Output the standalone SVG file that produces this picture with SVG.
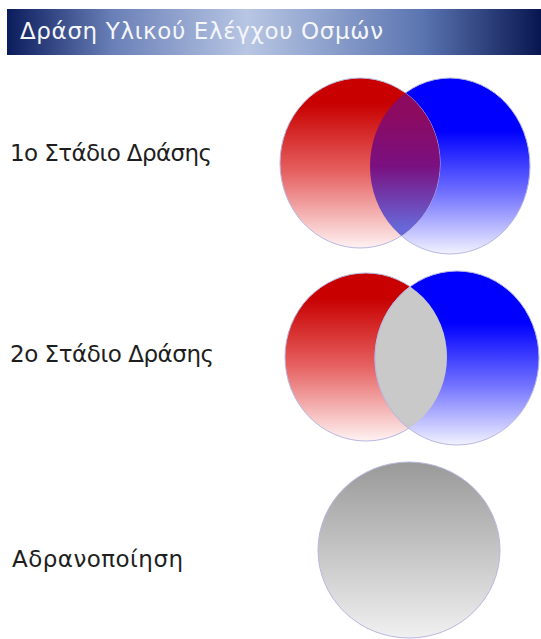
<svg xmlns="http://www.w3.org/2000/svg" width="541" height="639" viewBox="0 0 541 639">
<style>
.lbl{font-family:"DejaVu Sans","Liberation Sans",Arial,sans-serif;font-size:23px;fill:#1e1e1e}
.ttl{font-family:"DejaVu Sans","Liberation Sans",Arial,sans-serif;font-size:23px;fill:#f4f6fa}
.edge{stroke:#b8b8e0;stroke-width:1}
</style>
<defs>
<linearGradient id="hdr" x1="0" y1="0" x2="1" y2="0">
<stop offset="0" stop-color="#0b1c5c"/>
<stop offset="0.2" stop-color="#6a80b8"/>
<stop offset="0.45" stop-color="#b8c6e4"/>
<stop offset="0.78" stop-color="#5a74b0"/>
<stop offset="1" stop-color="#081650"/>
</linearGradient>
<linearGradient id="red" x1="0" y1="0" x2="0" y2="1">
<stop offset="0.15" stop-color="#c80000"/>
<stop offset="0.55" stop-color="#e66060"/>
<stop offset="1" stop-color="#fff2f2"/>
</linearGradient>
<linearGradient id="blue" x1="0" y1="0" x2="0" y2="1">
<stop offset="0.3" stop-color="#0000ff"/>
<stop offset="0.65" stop-color="#7070ff"/>
<stop offset="1" stop-color="#f2f2ff"/>
</linearGradient>
<linearGradient id="purple" x1="0" y1="0" x2="0" y2="1">
<stop offset="0.2" stop-color="#8c0a60"/>
<stop offset="0.5" stop-color="#7a1080"/>
<stop offset="0.85" stop-color="#6868d8"/>
</linearGradient>
<linearGradient id="gray" x1="0" y1="0" x2="0" y2="1">
<stop offset="0" stop-color="#999999"/>
<stop offset="1" stop-color="#f0f0f0"/>
</linearGradient>
<clipPath id="c1"><ellipse cx="360" cy="163" rx="80" ry="85"/></clipPath>
<clipPath id="c2"><ellipse cx="366" cy="357" rx="81" ry="84"/></clipPath>
</defs>
<g id="header">
<rect x="7" y="9" width="534" height="46" fill="url(#hdr)"/>
<text class="ttl" x="20" y="39" textLength="363">Δράση Υλικού Ελέγχου Οσμών</text>
</g>
<g id="stage1">
<text class="lbl" x="10" y="161" textLength="202">1ο Στάδιο Δράσης</text>
<ellipse class="edge" cx="450" cy="166" rx="80" ry="88" fill="url(#blue)"/>
<ellipse class="edge" cx="360" cy="163" rx="80" ry="85" fill="url(#red)"/>
<ellipse cx="450" cy="166" rx="80" ry="88" fill="url(#purple)" clip-path="url(#c1)"/>
</g>
<g id="stage2">
<text class="lbl" x="10" y="362" textLength="204">2ο Στάδιο Δράσης</text>
<ellipse class="edge" cx="366" cy="357" rx="81" ry="84" fill="url(#red)"/>
<ellipse class="edge" cx="457" cy="358" rx="82" ry="87" fill="url(#blue)"/>
<ellipse class="edge" cx="457" cy="358" rx="82" ry="87" fill="#c9c9c9" clip-path="url(#c2)"/>
</g>
<g id="stage3">
<text class="lbl" x="12" y="567" textLength="171">Αδρανοποίηση</text>
<ellipse class="edge" cx="409" cy="550" rx="91" ry="88" fill="url(#gray)"/>
</g>
<g id="connectors"/>
</svg>
